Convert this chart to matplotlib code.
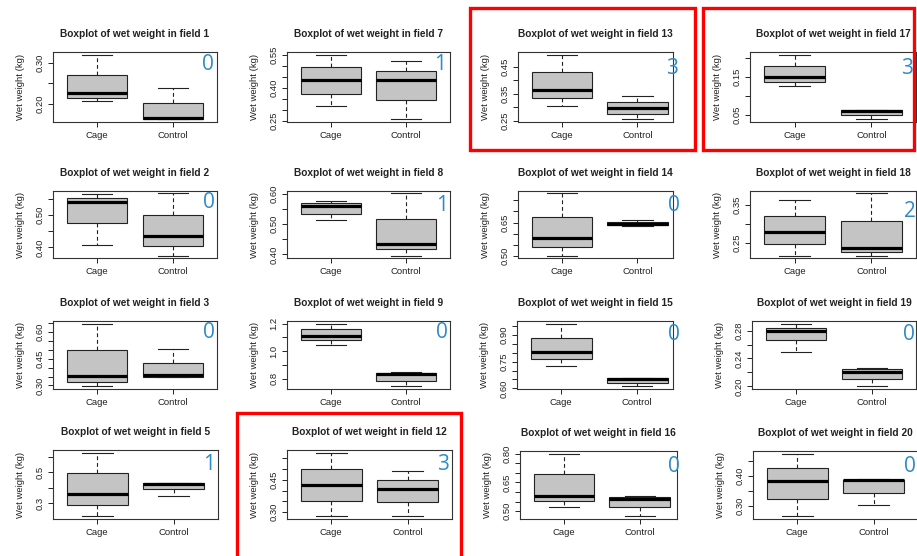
import matplotlib
matplotlib.use('Agg')
import matplotlib.pyplot as plt
from matplotlib.patches import Rectangle

# panels in reading order (left to right, top to bottom)
fields = [1, 7, 13, 17, 2, 8, 14, 18, 3, 9, 15, 19, 5, 12, 16, 20]
counts = [0, 1, 3, 3, 0, 1, 0, 2, 0, 0, 0, 0, 1, 3, 0, 0]
groups = ['Cage', 'Control']

# five-number summaries: lower whisker, Q1, median, Q3, upper whisker (kg)
cage = [
    [0.207, 0.216, 0.228, 0.271, 0.320],
    [0.316, 0.373, 0.435, 0.492, 0.550],
    [0.305, 0.334, 0.365, 0.428, 0.494],
    [0.125, 0.137, 0.150, 0.178, 0.208],
    [0.408, 0.475, 0.540, 0.553, 0.565],
    [0.513, 0.533, 0.560, 0.570, 0.577],
    [0.503, 0.543, 0.582, 0.676, 0.780],
    [0.218, 0.248, 0.278, 0.321, 0.363],
    [0.294, 0.319, 0.351, 0.498, 0.649],
    [1.048, 1.080, 1.108, 1.157, 1.200],
    [0.727, 0.765, 0.806, 0.883, 0.962],
    [0.250, 0.266, 0.280, 0.284, 0.290],
    [0.214, 0.285, 0.359, 0.494, 0.626],
    [0.280, 0.353, 0.424, 0.500, 0.577],
    [0.520, 0.554, 0.580, 0.692, 0.800],
    [0.263, 0.322, 0.383, 0.428, 0.476],
]
control = [
    [0.163, 0.163, 0.166, 0.202, 0.238],
    [0.256, 0.345, 0.435, 0.476, 0.522],
    [0.255, 0.275, 0.296, 0.318, 0.340],
    [0.039, 0.050, 0.062, 0.064, 0.064],
    [0.375, 0.405, 0.435, 0.499, 0.567],
    [0.396, 0.417, 0.434, 0.518, 0.602],
    [0.636, 0.638, 0.644, 0.653, 0.660],
    [0.218, 0.226, 0.237, 0.308, 0.379],
    [0.347, 0.347, 0.360, 0.428, 0.504],
    [0.745, 0.788, 0.836, 0.843, 0.853],
    [0.611, 0.633, 0.652, 0.661, 0.661],
    [0.200, 0.211, 0.221, 0.225, 0.227],
    [0.348, 0.391, 0.421, 0.429, 0.429],
    [0.280, 0.346, 0.408, 0.450, 0.489],
    [0.472, 0.520, 0.563, 0.571, 0.580],
    [0.302, 0.342, 0.385, 0.388, 0.389],
]
yticks = [
    [0.20, 0.25, 0.30],
    [0.25, 0.30, 0.35, 0.40, 0.45, 0.50, 0.55],
    [0.25, 0.30, 0.35, 0.40, 0.45],
    [0.05, 0.10, 0.15, 0.20],
    [0.40, 0.45, 0.50, 0.55],
    [0.40, 0.45, 0.50, 0.55, 0.60],
    [0.50, 0.55, 0.60, 0.65, 0.70, 0.75],
    [0.25, 0.30, 0.35],
    [0.30, 0.35, 0.40, 0.45, 0.50, 0.55, 0.60, 0.65],
    [0.8, 0.9, 1.0, 1.1, 1.2],
    [0.60, 0.65, 0.70, 0.75, 0.80, 0.85, 0.90, 0.95],
    [0.20, 0.22, 0.24, 0.26, 0.28],
    [0.3, 0.4, 0.5, 0.6],
    [0.30, 0.35, 0.40, 0.45, 0.50, 0.55],
    [0.50, 0.55, 0.60, 0.65, 0.70, 0.75, 0.80],
    [0.30, 0.35, 0.40, 0.45],
]
ylabels = [
    ['0.20', '', '0.30'],
    ['0.25', '', '', '0.40', '', '', '0.55'],
    ['0.25', '', '0.35', '', '0.45'],
    ['0.05', '', '0.15', ''],
    ['0.40', '', '0.50', ''],
    ['0.40', '', '0.50', '', '0.60'],
    ['0.50', '', '', '0.65', '', ''],
    ['0.25', '', '0.35'],
    ['0.30', '', '', '0.45', '', '', '0.60', ''],
    ['0.8', '', '1.0', '', '1.2'],
    ['0.60', '', '', '0.75', '', '', '0.90', ''],
    ['0.20', '', '0.24', '', '0.28'],
    ['0.3', '', '0.5', ''],
    ['0.30', '', '', '0.45', '', ''],
    ['0.50', '', '', '0.65', '', '', '0.80'],
    ['0.30', '', '0.40', ''],
]

# layout in pixels of the 917x556 screenshot
W, H = 917, 556
axes_px = [
    (53, 52, 217, 122), (287, 52, 450, 122), (518, 52, 673, 122), (750, 52, 916, 122),
    (53, 191, 217, 258), (287, 191, 450, 258), (518, 191, 673, 258), (750, 191, 916, 258),
    (53, 321, 217, 389), (287, 321, 450, 389), (517, 321, 673, 389), (752, 321, 916, 389),
    (53, 450, 218, 519), (287, 450, 452, 519), (520, 451, 677, 519), (753, 451, 918, 519),
]
xmax = [2.58, 2.58, 2.47, 2.58] * 3 + [2.58, 2.58, 2.49, 2.58]
num_px = [
    (208, 65), (440, 64), (672, 69), (907, 68),
    (209, 202), (442, 206), (674, 206), (910, 211),
    (209, 333), (442, 333), (674, 334), (909, 334),
    (209, 464), (443, 464), (674, 466), (910, 466),
]
red_boxes = [(470, 8, 695, 150), (703, 8, 914, 150), (237, 413, 461, 558)]

plt.rcParams['font.family'] = ['Liberation Sans', 'DejaVu Sans']
fig = plt.figure(figsize=(W / 100, H / 100), dpi=100)
fig.patch.set_facecolor('white')

ink = '#222222'
for i in range(len(fields)):
    l, t, r, b = axes_px[i]
    ax = fig.add_axes([l / W, 1 - b / H, (r - l) / W, (b - t) / H])
    stats = []
    for s in (cage[i], control[i]):
        stats.append(dict(whislo=s[0], q1=s[1], med=s[2], q3=s[3], whishi=s[4], fliers=[]))
    ax.bxp(stats, positions=[1, 2], widths=0.8, patch_artist=True, showfliers=False,
           boxprops=dict(facecolor='#c4c4c4', edgecolor=ink, linewidth=0.8),
           whiskerprops=dict(color=ink, linewidth=0.8, linestyle=(0, (3.5, 2.5))),
           capprops=dict(color=ink, linewidth=0.8),
           medianprops=dict(color='black', linewidth=2.3, solid_capstyle='butt'))
    lo = min(cage[i][0], control[i][0])
    hi = max(cage[i][4], control[i][4])
    pad = 0.04 * (hi - lo)
    ax.set_ylim(lo - pad, hi + pad)
    ax.set_xlim(0.42, xmax[i])
    ax.set_xticks([1, 2], groups, fontsize=6.8, color=ink)
    ax.set_yticks(yticks[i], ylabels[i], fontsize=6.8, color=ink, rotation=90, va='center')
    ax.tick_params(direction='out', length=3.5, width=0.7, pad=3, colors=ink)
    ax.tick_params(axis='y', pad=2.5)
    for sp in ax.spines.values():
        sp.set_linewidth(0.8)
        sp.set_color('#333333')
    ax.set_ylabel('Wet weight (kg)', fontsize=6.8, color=ink, labelpad=8)
    ax.set_title(f'Boxplot of wet weight in field {fields[i]}', fontsize=7.3,
                 fontweight='bold', color=ink, pad=11)
    cx, cy = num_px[i]
    fig.text(cx / W, 1 - cy / H, str(counts[i]), fontsize=15, color='#2e8bc6',
             ha='center', va='center', family=['Open Sans', 'DejaVu Sans'])

for x0, y0, x1, y1 in red_boxes:
    fig.add_artist(Rectangle((x0 / W, 1 - y1 / H), (x1 - x0) / W, (y1 - y0) / H,
                             transform=fig.transFigure, fill=False, edgecolor='red',
                             linewidth=2.4))

fig.savefig('out.png', dpi=100)
